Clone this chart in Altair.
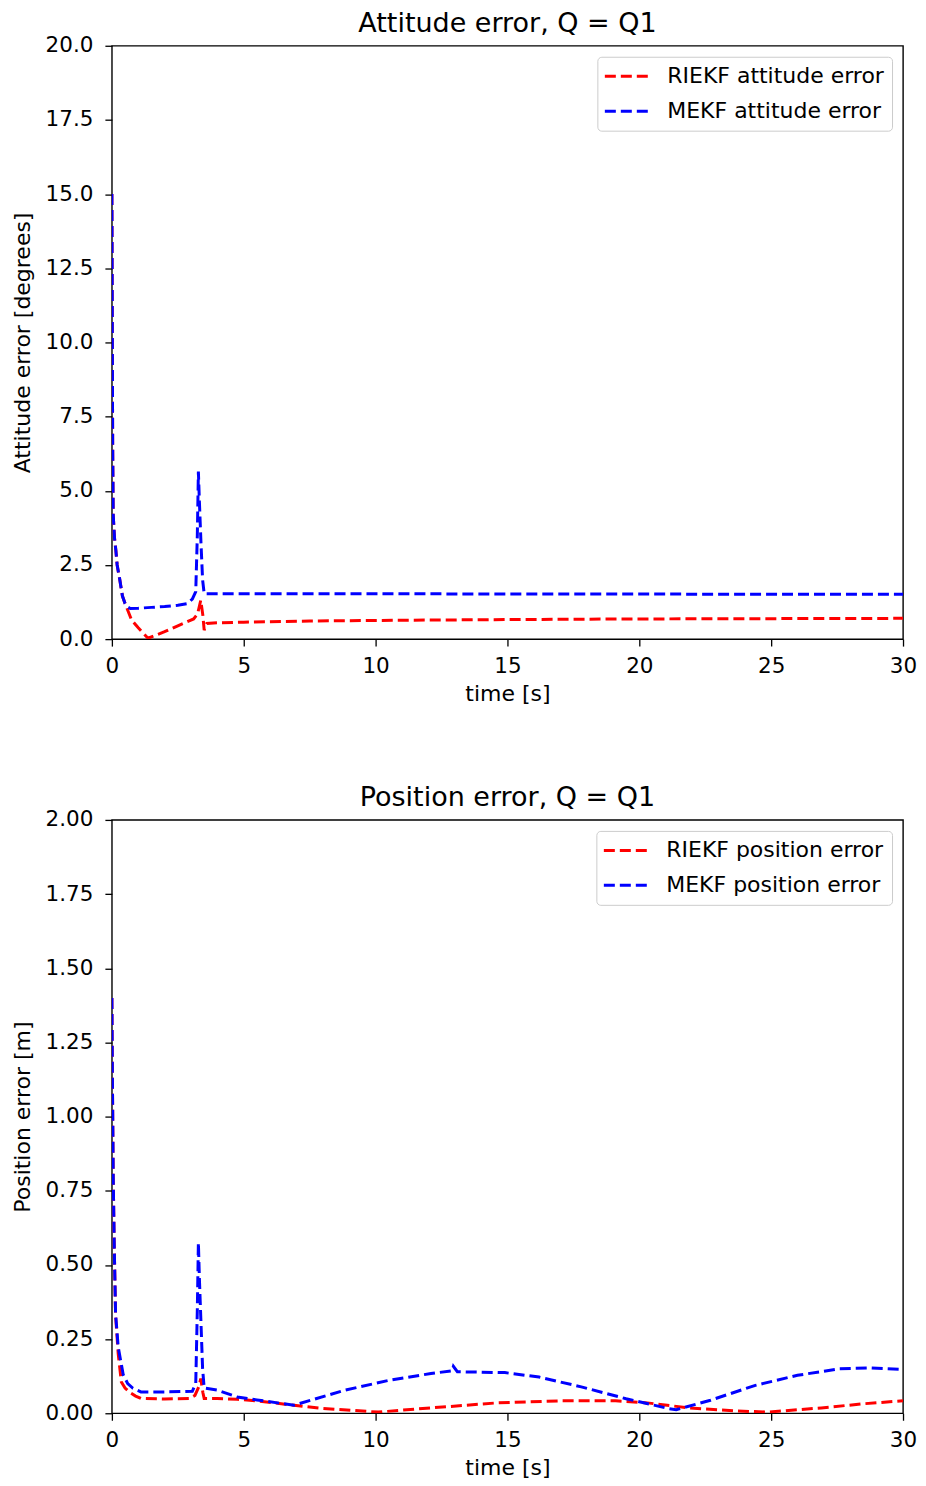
import altair as alt
import pandas as pd

# ---------------- data ----------------
att_t_riekf = [0, 0.01, 0.02, 0.03, 0.05, 0.1, 0.15, 0.2, 0.3, 0.4, 0.5, 0.75, 1.0, 1.37,
               2.0, 2.5, 3.1, 3.25, 3.37, 3.45, 3.5, 3.6, 4.0, 5, 7.5, 10, 15, 20, 25, 30]
att_riekf = [15.0, 12.0, 9.0, 6.5, 4.2, 3.4, 3.0, 2.5, 2.0, 1.45, 1.2, 0.64, 0.38, 0.03,
             0.25, 0.45, 0.68, 0.85, 1.31, 0.8, 0.3, 0.53, 0.55, 0.57, 0.61, 0.63, 0.66, 0.68, 0.69, 0.70]

att_t_mekf = [0, 0.01, 0.02, 0.03, 0.05, 0.1, 0.15, 0.2, 0.3, 0.4, 0.5, 0.6, 0.7, 1.0, 1.5,
              2.0, 2.5, 2.87, 3.05, 3.18, 3.24, 3.28, 3.32, 3.38, 3.44, 3.5, 4.0, 5, 10, 15, 20, 25, 30]
att_mekf = [15.0, 12.0, 9.0, 6.5, 4.2, 3.4, 3.0, 2.5, 2.0, 1.45, 1.2, 1.08, 1.03, 1.04, 1.07,
            1.1, 1.14, 1.2, 1.35, 1.6, 3.5, 5.65, 4.6, 3.2, 2.0, 1.53, 1.53, 1.53, 1.53, 1.52, 1.52, 1.51, 1.51]

pos_t_riekf = [0, 0.01, 0.02, 0.03, 0.05, 0.09, 0.14, 0.24, 0.36, 0.5, 0.68, 0.9, 1.1, 2.0, 2.95,
               3.15, 3.3, 3.37, 3.45, 3.5, 4.0, 4.75, 5.5, 6.9, 8.0, 10.1, 12.1, 14.6, 17.0, 19.1,
               20.3, 21.9, 23.6, 24.9, 26.9, 28.5, 30]
pos_riekf = [1.40, 1.25, 1.12, 1.02, 0.8, 0.56, 0.33, 0.2, 0.105, 0.085, 0.07, 0.058, 0.05, 0.048, 0.05,
             0.06, 0.09, 0.117, 0.07, 0.05, 0.05, 0.047, 0.042, 0.027, 0.016, 0.004, 0.018, 0.035, 0.042, 0.042,
             0.035, 0.018, 0.008, 0.004, 0.018, 0.032, 0.042]

pos_t_mekf = [0, 0.01, 0.02, 0.03, 0.05, 0.09, 0.14, 0.24, 0.43, 0.6, 0.8, 1.1, 2.0, 3.05, 3.18,
              3.24, 3.28, 3.32, 3.38, 3.44, 3.5, 4.0, 4.75, 5.5, 6.9, 8.8, 10.5, 12.1, 12.9, 12.95,
              13.1, 14.9, 16.2, 17.8, 19.5, 21.1, 21.4, 22.7, 24.4, 26.0, 27.6, 28.8, 30]
pos_mekf = [1.40, 1.25, 1.12, 1.02, 0.8, 0.56, 0.335, 0.223, 0.13, 0.1, 0.084, 0.072, 0.072, 0.074, 0.1,
            0.35, 0.575, 0.45, 0.3, 0.15, 0.085, 0.078, 0.055, 0.045, 0.027, 0.077, 0.111, 0.134, 0.143, 0.158,
            0.14, 0.137, 0.122, 0.089, 0.049, 0.016, 0.012, 0.044, 0.094, 0.128, 0.150, 0.153, 0.148]

x_ticks = [0, 5, 10, 15, 20, 25, 30]
att_ticks = [0, 2.5, 5, 7.5, 10, 12.5, 15, 17.5, 20]
pos_ticks = [0, 0.25, 0.5, 0.75, 1.0, 1.25, 1.5, 1.75, 2.0]

FONT = "DejaVu Sans"
RED = "#ff0000"
BLUE = "#0000ff"


def make_df(t1, v1, name1, t2, v2, name2):
    a = pd.DataFrame({"t": t1, "v": v1, "series": name1, "k": 0})
    b = pd.DataFrame({"t": t2, "v": v2, "series": name2, "k": 1})
    return pd.concat([a, b], ignore_index=True)


def panel(df, names, title, ytitle, ymax, yticks, yfmt):
    return (
        alt.Chart(df, title=title)
        .mark_line(strokeWidth=3, strokeDash=[11, 5], clip=True)
        .encode(
            x=alt.X("t:Q", scale=alt.Scale(domain=[0, 30], nice=False),
                    axis=alt.Axis(values=x_ticks, format="d", title="time [s]")),
            y=alt.Y("v:Q", scale=alt.Scale(domain=[0, ymax], nice=False),
                    axis=alt.Axis(values=yticks, format=yfmt, title=ytitle)),
            color=alt.Color("series:N",
                            scale=alt.Scale(domain=names, range=[RED, BLUE]),
                            legend=alt.Legend(title=None, orient="top-right", offset=11)),
            detail="k:N",
        )
        .properties(width=792, height=594)
    )


att_names = ["RIEKF attitude error", "MEKF attitude error"]
pos_names = ["RIEKF position error", "MEKF position error"]

att_df = make_df(att_t_riekf, att_riekf, att_names[0], att_t_mekf, att_mekf, att_names[1])
pos_df = make_df(pos_t_riekf, pos_riekf, pos_names[0], pos_t_mekf, pos_mekf, pos_names[1])

top = panel(att_df, att_names, "Attitude error, Q = Q1", "Attitude error [degrees]", 20, att_ticks, ".1f")
bottom = panel(pos_df, pos_names, "Position error, Q = Q1", "Position error [m]", 2, pos_ticks, ".2f")

chart = (
    alt.vconcat(top, bottom, spacing=77)
    .resolve_scale(color="independent")
    .properties(padding={"left": 2, "top": 0, "right": 0, "bottom": 0})
    .configure_view(stroke="black", strokeWidth=1.4)
    .configure_axis(
        domain=False, grid=False, ticks=True, tickSize=7, tickWidth=1.3, tickColor="black",
        labelFont=FONT, labelFontSize=21.5, labelColor="black",
        titleFont=FONT, titleFontSize=22, titleColor="black", titleFontWeight="normal",
        labelFlush=False,
    )
    .configure_axisX(labelPadding=9, titlePadding=7)
    .configure_axisY(labelPadding=12, titlePadding=11)
    .configure_title(font=FONT, fontSize=27, fontWeight="normal", color="black", offset=-3, anchor="middle")
    .configure_legend(
        labelFont=FONT, labelFontSize=22, labelColor="black", labelLimit=400,
        symbolType="M-1.2,0L3.5,0", symbolSize=400, symbolStrokeWidth=3, symbolDash=[11, 5],
        labelOffset=39, rowPadding=12, padding=8,
        strokeColor="#cccccc", fillColor="white", cornerRadius=4,
    )
)

chart.save("out.html", embed_options={"renderer": "svg", "actions": False})
